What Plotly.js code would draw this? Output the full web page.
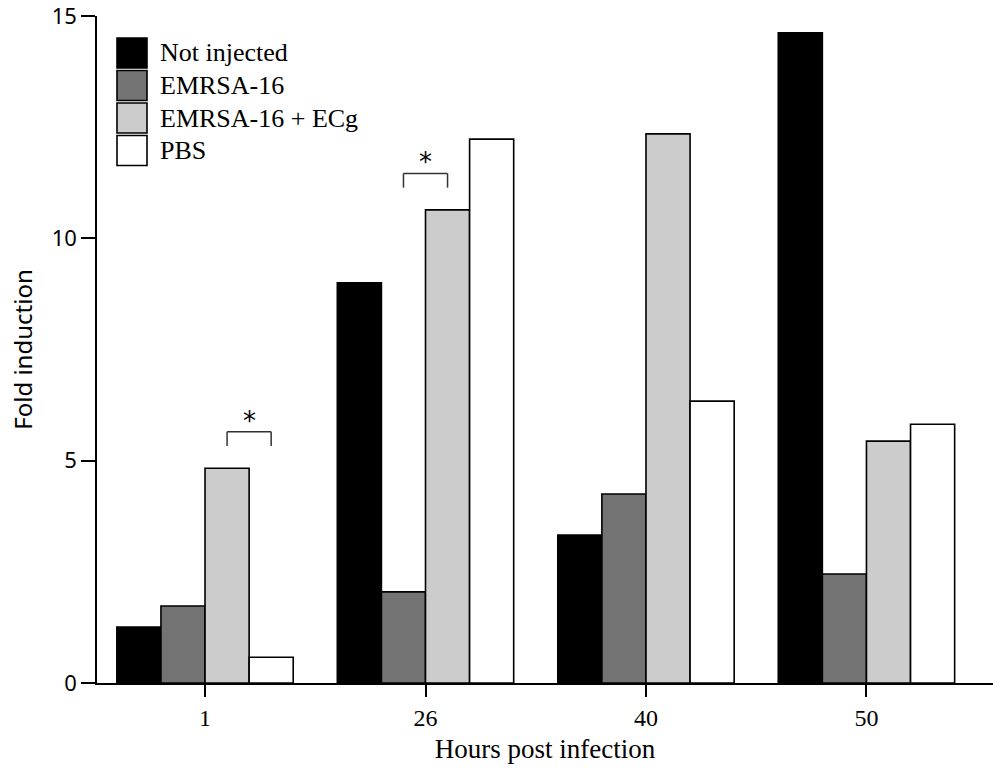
<!DOCTYPE html>
<html>
<head>
<meta charset="utf-8">
<script src="https://cdn.plot.ly/plotly-3.0.1.min.js"></script>
<style>
  html, body { margin: 0; padding: 0; background: #fff; }
  #chart { width: 1000px; height: 778px; }
</style>
</head>
<body>
<div id="chart"></div>
<script>
// ---------- data ----------
const hours = ["1", "26", "40", "50"];
const seriesNames = ["Not injected", "EMRSA-16", "EMRSA-16 + ECg", "PBS"];
const notInjected = [1.26, 9.0, 3.33, 14.62];
const emrsa16 = [1.73, 2.05, 4.25, 2.45];
const emrsaEcg = [4.83, 10.64, 12.35, 5.44];
const pbs = [0.58, 12.23, 6.34, 5.82];
const yTicks = [0, 5, 10, 15];
const seriesColors = ["#000000", "#737373", "#cccccc", "#ffffff"];

// significance brackets: group index and the two series compared
const sigGroups = [0, 1];
const sigPairs = [[2, 3], [1, 2]];

const allValues = [notInjected, emrsa16, emrsaEcg, pbs];

// ---------- geometry helpers ----------
const M = { l: 97, r: 7, t: 16, b: 95 };
const W = 1000, H = 778;
const plotW = W - M.l - M.r, plotH = H - M.t - M.b;
const pxX = px => (px - M.l) / plotW;
const pxY = py => (H - M.b - py) / plotH;

const traces = allValues.map((vals, i) => ({
  type: "bar",
  name: seriesNames[i],
  x: hours,
  y: vals,
  marker: { color: seriesColors[i], line: { color: "#000", width: 1.6 } },
  showlegend: false,
  hoverinfo: "x+y+name"
}));

const shapes = [];
const annotations = [];

// brackets + stars
const barW = 0.2;
sigGroups.forEach((g, k) => {
  const [a, b] = sigPairs[k];
  const xa = g + (a - 1.5) * barW;
  const xb = g + (b - 1.5) * barW;
  const top = Math.max(allValues[a][g], allValues[b][g]);
  const y0 = top + 0.5, y1 = top + 0.82;
  const ln = { color: "#333", width: 1.5 };
  shapes.push({ type: "line", xref: "x", yref: "y", x0: xa, x1: xa, y0: y0, y1: y1, line: ln });
  shapes.push({ type: "line", xref: "x", yref: "y", x0: xa, x1: xb, y0: y1, y1: y1, line: ln });
  shapes.push({ type: "line", xref: "x", yref: "y", x0: xb, x1: xb, y0: y0, y1: y1, line: ln });
  annotations.push({
    x: (xa + xb) / 2, y: y1, xref: "x", yref: "y",
    text: "*", showarrow: false, yanchor: "bottom", yshift: -6,
    font: { family: "DejaVu Sans", size: 26, color: "#000" }
  });
});

// custom legend with large swatches
seriesNames.forEach((name, i) => {
  const top = 38 + i * 32.5;
  shapes.push({
    type: "rect", xref: "paper", yref: "paper",
    x0: pxX(117), x1: pxX(147), y0: pxY(top + 30), y1: pxY(top),
    fillcolor: seriesColors[i], line: { color: "#000", width: 1.6 }
  });
  annotations.push({
    x: pxX(158), y: pxY(top + 15), xref: "paper", yref: "paper",
    text: name, showarrow: false, xanchor: "left", yanchor: "middle",
    font: { family: "Liberation Serif", size: 26, color: "#000" }
  });
});

const layout = {
  width: W, height: H,
  margin: M,
  paper_bgcolor: "#fff",
  plot_bgcolor: "#fff",
  barmode: "group",
  bargap: 0.2,
  bargroupgap: 0,
  xaxis: {
    type: "category",
    range: [-0.49, 3.574],
    showline: true, linecolor: "#000", linewidth: 1.5,
    ticks: "outside", ticklen: 12, tickwidth: 1.5, tickcolor: "#000",
    showgrid: false, zeroline: false,
    tickfont: { family: "Liberation Serif", size: 24, color: "#000" },
    title: { text: "Hours post infection", font: { family: "Liberation Serif", size: 27, color: "#000" }, standoff: 10 }
  },
  yaxis: {
    range: [0, 15],
    tickmode: "array",
    tickvals: yTicks,
    ticktext: yTicks.map(String),
    ticklabeloverflow: "allow",
    showline: true, linecolor: "#000", linewidth: 1.5,
    ticks: "outside", ticklen: 14, tickwidth: 1.5, tickcolor: "#000",
    showgrid: false, zeroline: false,
    tickfont: { family: "Noto Sans", size: 22, color: "#000" },
    title: { text: "Fold induction", font: { family: "Noto Sans", size: 24, color: "#000" }, standoff: 12 }
  },
  shapes: shapes,
  annotations: annotations
};

Plotly.newPlot("chart", traces, layout, { displayModeBar: false });
</script>
</body>
</html>
